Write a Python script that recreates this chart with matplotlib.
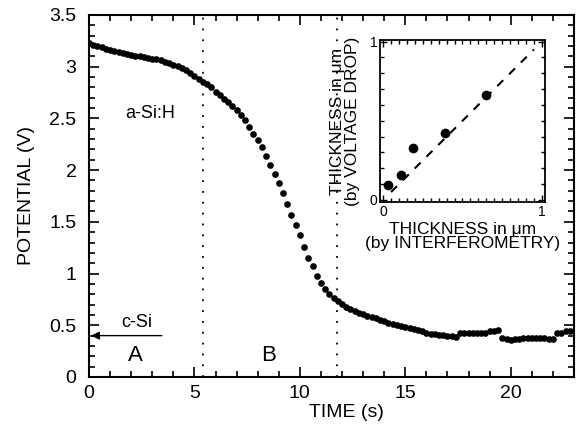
import numpy as np
import matplotlib
matplotlib.use('Agg')
import matplotlib.pyplot as plt
from matplotlib.ticker import MultipleLocator, FixedLocator

plt.rcParams['font.family'] = ['Liberation Sans', 'DejaVu Sans']

# potential vs time, one reading every 0.2 s
time_s = np.round(np.arange(0, 23.01, 0.2), 1)
potential = [
    3.23, 3.21, 3.20, 3.19, 3.17, 3.16, 3.15, 3.14, 3.13, 3.12,
    3.11, 3.10, 3.10, 3.09, 3.08, 3.07, 3.07, 3.06, 3.05, 3.04,
    3.02, 3.01, 2.99, 2.97, 2.94, 2.91, 2.88, 2.85, 2.83, 2.80,
    2.76, 2.73, 2.69, 2.66, 2.62, 2.58, 2.53, 2.48, 2.42, 2.35,
    2.29, 2.22, 2.14, 2.05, 1.96, 1.88, 1.78, 1.67, 1.57, 1.47,
    1.37, 1.26, 1.15, 1.07, 0.98, 0.91, 0.85, 0.80, 0.76, 0.73,
    0.71, 0.68, 0.66, 0.64, 0.62, 0.61, 0.59, 0.58, 0.57, 0.55,
    0.54, 0.52, 0.51, 0.50, 0.49, 0.48, 0.47, 0.46, 0.45, 0.44,
    0.43, 0.42, 0.42, 0.41, 0.41, 0.40, 0.40, 0.39, 0.43, 0.43,
    0.43, 0.43, 0.43, 0.43, 0.43, 0.44, 0.44, 0.45, 0.38, 0.37,
    0.36, 0.37, 0.37, 0.38, 0.38, 0.38, 0.38, 0.38, 0.38, 0.37,
    0.37, 0.43, 0.43, 0.44, 0.44, 0.44,
]
region_bounds = [5.4, 11.75]

# inset: thickness comparison (um)
thick_interf = [0.03, 0.11, 0.19, 0.39, 0.65]
thick_vdrop = [0.095, 0.16, 0.33, 0.425, 0.66]
ideal_line = [0.05, 0.95]

fig = plt.figure(figsize=(5.76, 4.28), dpi=100)
ax = fig.add_axes([0.1545, 0.1192, 0.8420, 0.8458])

ax.plot(time_s, potential, 'o', color='black', ms=4.8, mec='none')
for xb in region_bounds:
    ax.axvline(xb, color='black', lw=1.3, ls=(0, (1, 5)))

ax.set_xlim(0, 23)
ax.set_ylim(0, 3.5)
ax.xaxis.set_major_locator(MultipleLocator(5))
ax.xaxis.set_minor_locator(MultipleLocator(1))
ax.yaxis.set_minor_locator(MultipleLocator(0.1))
ax.set_yticks([0, 0.5, 1, 1.5, 2, 2.5, 3, 3.5])
ax.set_yticklabels(['0', '0.5', '1', '1.5', '2', '2.5', '3', '3.5'])
ax.tick_params(which='both', direction='in', top=True, right=True, width=1.2,
               labelsize=14)
ax.tick_params(which='major', length=7)
ax.tick_params(which='minor', length=4)
ax.tick_params(axis='y', pad=9)
ax.tick_params(axis='x', pad=6)
for sp in ax.spines.values():
    sp.set_linewidth(1.5)
ax.set_xlabel('TIME (s)', fontsize=14, labelpad=1)
ax.xaxis.set_label_coords(0.53, -0.075)
ax.set_ylabel('POTENTIAL (V)', fontsize=14, labelpad=10)

ax.text(2.9, 2.55, 'a-Si:H', fontsize=13, ha='center', va='center')
ax.text(2.25, 0.53, 'c-Si', fontsize=13, ha='center', va='center')
ax.text(2.2, 0.21, 'A', fontsize=16, ha='center', va='center')
ax.text(8.5, 0.21, 'B', fontsize=16, ha='center', va='center')
ax.annotate('', xy=(0.1, 0.40), xytext=(3.45, 0.40),
            arrowprops=dict(arrowstyle='-|>', color='black', lw=1.0,
                            mutation_scale=12, shrinkA=0, shrinkB=0))

# inset
ins = fig.add_axes([0.6597, 0.528, 0.2865, 0.3785])
ins.plot(ideal_line, ideal_line, color='black', lw=1.5, dashes=(4, 4))
ins.plot(thick_interf, thick_vdrop, 'o', color='black', ms=7, mec='none')
ins.set_xlim(-0.02, 1.02)
ins.set_ylim(-0.013, 1.01)
ins.xaxis.set_major_locator(FixedLocator([0, 1]))
ins.yaxis.set_major_locator(FixedLocator([0, 1]))
ins.xaxis.set_minor_locator(MultipleLocator(0.05))
ins.yaxis.set_minor_locator(MultipleLocator(0.1))
ins.tick_params(which='both', direction='in', top=True, right=True, width=1.0,
                labelsize=10, pad=2)
ins.tick_params(which='major', length=5)
ins.tick_params(which='minor', length=3)
for sp in ins.spines.values():
    sp.set_linewidth(1.3)
ins.set_xlabel('THICKNESS in \u03bcm\n(by INTERFEROMETRY)', fontsize=12.5,
               labelpad=2, linespacing=0.95)
ins.set_ylabel('THICKNESS in \u03bcm\n(by VOLTAGE DROP)', fontsize=12.5,
               labelpad=7, linespacing=0.95)

fig.savefig('out.png', dpi=100)
